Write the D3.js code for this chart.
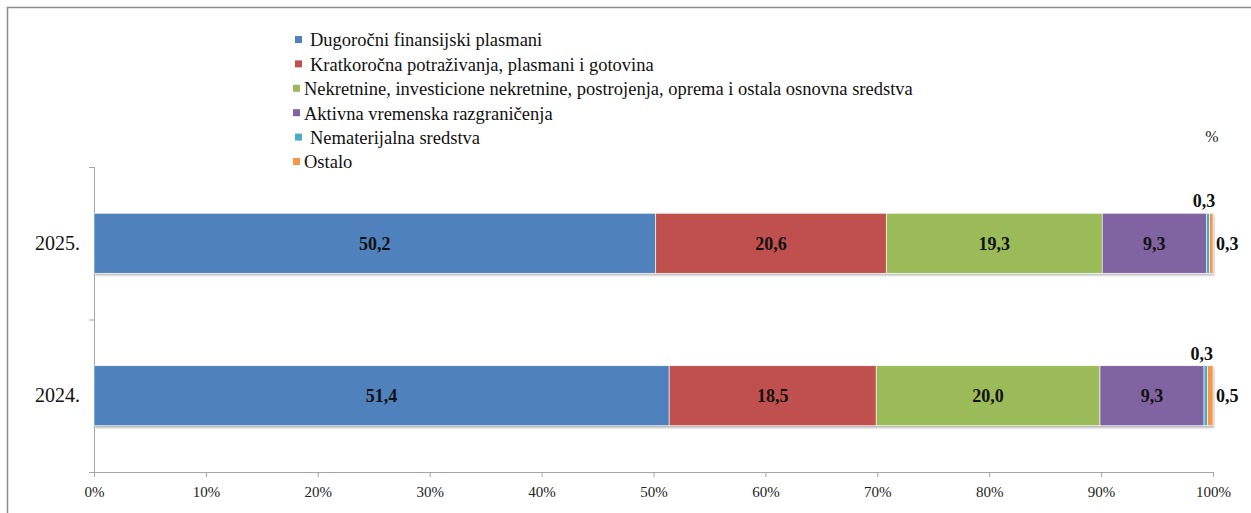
<!DOCTYPE html>
<html>
<head>
<meta charset="utf-8">
<script src="https://cdn.jsdelivr.net/npm/d3@7"></script>
<style>
  body { margin: 0; background: #fff; }
  svg { display: block; }
  .axis path, .axis line { stroke: #a6a6a6; }
</style>
</head>
<body>
<svg id="chart" width="1251" height="513"></svg>
<script>
const years = ['2025.', '2024.'];
const seriesNames = [
  'Dugoročni finansijski plasmani',
  'Kratkoročna potraživanja, plasmani i gotovina',
  'Nekretnine, investicione nekretnine, postrojenja, oprema i ostala osnovna sredstva',
  'Aktivna vremenska razgraničenja',
  'Nematerijalna sredstva',
  'Ostalo'
];
const seriesColors = ['#4f81bd', '#c0504d', '#9bbb59', '#8064a2', '#4bacc6', '#f79646'];
const values2025 = [50.2, 20.6, 19.3, 9.3, 0.3, 0.3];
const values2024 = [51.4, 18.5, 20.0, 9.3, 0.3, 0.5];
const xTicks = [0, 10, 20, 30, 40, 50, 60, 70, 80, 90, 100];

const SERIF = '"Liberation Serif", "Times New Roman", serif';

(function () {
  const svg = d3.select('#chart');
  const width = 1251, height = 513;
  const plot = { left: 94, right: 1213, top: 167, bottom: 472 };

  // outer frame (only top and left edges show in the picture)
  svg.append('path')
    .attr('d', `M7.5,${height} V7.5 H${width}`)
    .attr('fill', 'none')
    .attr('stroke', '#8c8c8c')
    .attr('stroke-width', 1.5);

  const rows = [
    { year: years[0], values: values2025 },
    { year: years[1], values: values2024 }
  ];

  const x = d3.scaleLinear().domain([0, 100]).range([plot.left, plot.right]);
  const y = d3.scaleBand().domain(years).range([plot.top, plot.bottom]);
  const barH = 60;

  const defs = svg.append('defs');
  const f = defs.append('filter').attr('id', 'shadow').attr('x', '-5%').attr('y', '-20%').attr('width', '110%').attr('height', '160%');
  f.append('feDropShadow').attr('dx', 1).attr('dy', 2).attr('stdDeviation', 1.2)
    .attr('flood-color', '#000').attr('flood-opacity', 0.3);

  // axes
  const xAxis = svg.append('g')
    .attr('class', 'axis')
    .attr('transform', `translate(0,${plot.bottom})`)
    .call(d3.axisBottom(x).tickValues(xTicks).tickFormat(d => d + '%').tickSize(5).tickSizeOuter(0));
  xAxis.selectAll('text')
    .attr('dy', '1.15em')
    .style('font-family', SERIF)
    .style('font-size', '15px')
    .attr('fill', '#222');

  const yAxis = svg.append('g')
    .attr('class', 'axis')
    .attr('transform', `translate(${plot.left},0)`)
    .call(d3.axisLeft(y).tickSize(0).tickPadding(14));
  yAxis.selectAll('text')
    .style('font-family', SERIF)
    .style('font-size', '20px')
    .attr('fill', '#111');
  yAxis.select('.domain').remove();
  svg.append('line')
    .attr('x1', plot.left + 0.5).attr('x2', plot.left + 0.5)
    .attr('y1', plot.top).attr('y2', plot.bottom)
    .attr('stroke', '#a6a6a6');
  // category divider ticks
  svg.append('g').selectAll('line')
    .data([plot.top, y(years[1]), plot.bottom])
    .join('line')
    .attr('x1', plot.left - 5).attr('x2', plot.left)
    .attr('y1', d => d + 0.5).attr('y2', d => d + 0.5)
    .attr('stroke', '#a6a6a6');

  // stacked bars
  const fmt = v => v.toFixed(1).replace('.', ',');
  rows.forEach(row => {
    const yTop = y(row.year) + (y.bandwidth() - barH) / 2;
    let acc = 0;
    const segs = row.values.map((v, i) => {
      const s = { i, v, x0: acc, x1: acc + v };
      acc += v;
      return s;
    });
    const g = svg.append('g');
    g.append('rect')
      .attr('x', x(0)).attr('y', yTop)
      .attr('width', x(acc) - x(0)).attr('height', barH)
      .attr('fill', '#fff')
      .attr('filter', 'url(#shadow)');
    g.selectAll('rect.seg')
      .data(segs)
      .join('rect')
      .attr('class', 'seg')
      .attr('x', d => x(d.x0))
      .attr('y', yTop)
      .attr('width', d => Math.max(0.8, x(d.x1) - x(d.x0)))
      .attr('height', barH)
      .attr('fill', d => seriesColors[d.i])
      .attr('stroke', '#fff')
      .attr('stroke-width', 0.6);

    // small segments get their labels outside the bar
    g.selectAll('text')
      .data(segs)
      .join('text')
      .style('font-family', SERIF)
      .style('font-weight', 'bold')
      .style('font-size', '18px')
      .attr('fill', '#111')
      .attr('x', d => d.i < 4 ? x((d.x0 + d.x1) / 2) : d.i === 4 ? x((d.x0 + d.x1) / 2) - 4 : x(100) + 3)
      .attr('y', d => d.i === 4 ? yTop - 6 : yTop + barH / 2)
      .attr('dy', d => d.i === 4 ? 0 : '0.35em')
      .attr('text-anchor', d => d.i < 5 ? 'middle' : 'start')
      .text(d => fmt(d.v));
  });

  // legend
  const legend = svg.append('g').attr('transform', 'translate(293,40)');
  const indent = [1, 1, 0, 0, 1, 0];
  const item = legend.selectAll('g')
    .data(seriesNames)
    .join('g')
    .attr('transform', (d, i) => `translate(0,${i * 24.4})`);
  item.append('rect')
    .attr('x', (d, i) => indent[i] ? 2 : 0).attr('y', -4)
    .attr('width', 7).attr('height', 7)
    .attr('fill', (d, i) => seriesColors[i]);
  item.append('text')
    .attr('x', (d, i) => indent[i] ? 17 : 11)
    .attr('dy', '0.35em')
    .style('font-family', SERIF)
    .style('font-size', '18.5px')
    .attr('fill', '#111')
    .text(d => d);

  svg.append('text')
    .attr('x', 1212).attr('y', 142)
    .attr('text-anchor', 'middle')
    .style('font-family', SERIF)
    .style('font-size', '16px')
    .attr('fill', '#222')
    .text('%');
})();
</script>
</body>
</html>
